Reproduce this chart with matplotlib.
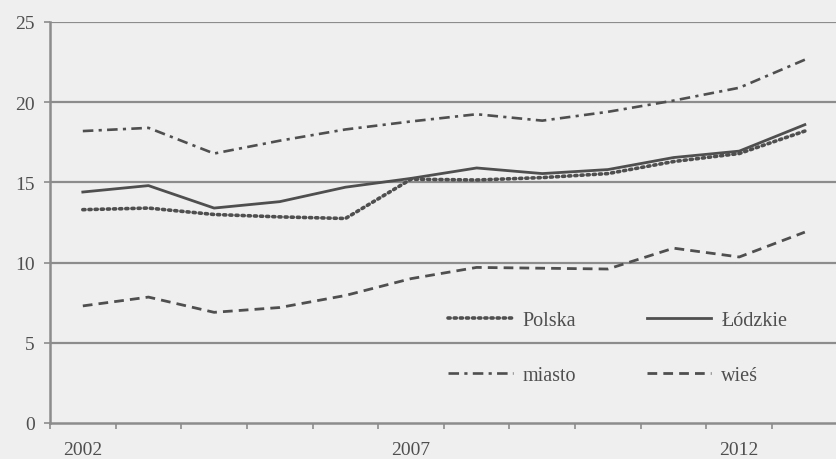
import numpy as np
import matplotlib.pyplot as plt

# ------------------------------------------------------------
# data
# ------------------------------------------------------------
years = [2002, 2003, 2004, 2005, 2006, 2007, 2008, 2009, 2010, 2011, 2012, 2013]
polska = [13.3, 13.4, 13.0, 12.85, 12.75, 15.2, 15.15, 15.3, 15.55, 16.3, 16.8, 18.2]
lodzkie = [14.4, 14.8, 13.4, 13.8, 14.7, 15.25, 15.9, 15.55, 15.8, 16.55, 16.95, 18.6]
miasto = [18.2, 18.4, 16.8, 17.6, 18.3, 18.8, 19.25, 18.85, 19.4, 20.1, 20.9, 22.65]
wies = [7.3, 7.85, 6.9, 7.2, 7.95, 9.0, 9.7, 9.65, 9.6, 10.9, 10.35, 11.9]
y_ticks = [0, 5, 10, 15, 20, 25]
x_labels = ["2002", "2007", "2012"]

bg = "#efefef"
ink = "#4f4f4f"
grid_c = "#8c8c8c"

plt.rcParams["font.family"] = ["Liberation Serif", "DejaVu Serif"]

fig = plt.figure(figsize=(8.36, 4.6), dpi=100, facecolor=bg)
ax = fig.add_axes([50 / 836, 36 / 460, 1.0 - 50 / 836 + 0.002, 401 / 460])
ax.set_facecolor(bg)

x = np.arange(len(years))

h_pol, = ax.plot(x, polska, color=ink, lw=2.6, ls=(0, (0.6, 1.1)),
                 dash_capstyle="round", label="Polska")
h_lod, = ax.plot(x, lodzkie, color=ink, lw=2.0, label="Łódzkie")
h_mia, = ax.plot(x, miasto, color=ink, lw=1.9, ls=(0, (4, 2, 1.2, 2)),
                 label="miasto")
h_wie, = ax.plot(x, wies, color=ink, lw=2.0, ls=(0, (3.5, 2.2)), label="wieś")

# ---- axes ----
ax.set_xlim(-0.5, len(years) - 0.5)
ax.set_ylim(0, 25)

ax.set_yticks(y_ticks)
ax.set_yticklabels([str(v) for v in y_ticks])
for v in y_ticks[1:]:
    ax.axhline(v, color=grid_c, lw=1.6, zorder=0)

# category boundaries carry the tick marks, labels sit at centres
ax.set_xticks(np.arange(-0.5, len(years), 1.0))
ax.set_xticklabels([])
ax.set_xticks([years.index(int(s)) for s in x_labels], minor=True)
ax.set_xticklabels(x_labels, minor=True)
ax.tick_params(axis="x", which="major", length=4, width=1.2, color=grid_c,
               direction="out")
ax.tick_params(axis="x", which="minor", length=0, pad=13, labelsize=14,
               labelcolor=ink)
ax.tick_params(axis="y", length=4, width=1.2, color=grid_c, direction="out",
               labelsize=14, labelcolor=ink, pad=7)

for s in ["top", "right"]:
    ax.spines[s].set_visible(False)
for s in ["left", "bottom"]:
    ax.spines[s].set_color(grid_c)
    ax.spines[s].set_linewidth(1.8)

# column-major filling: Polska / miasto first column, Łódzkie / wieś second
ax.legend([h_pol, h_mia, h_lod, h_wie], ["Polska", "miasto", "Łódzkie", "wieś"],
          ncol=2, loc="center", bbox_to_anchor=(0.721, 0.187),
          frameon=False, fontsize=14.5, handlelength=3.2,
          handletextpad=0.5, columnspacing=3.5, labelspacing=1.75,
          labelcolor=ink)

fig.savefig("out.png", dpi=100, facecolor=bg)
